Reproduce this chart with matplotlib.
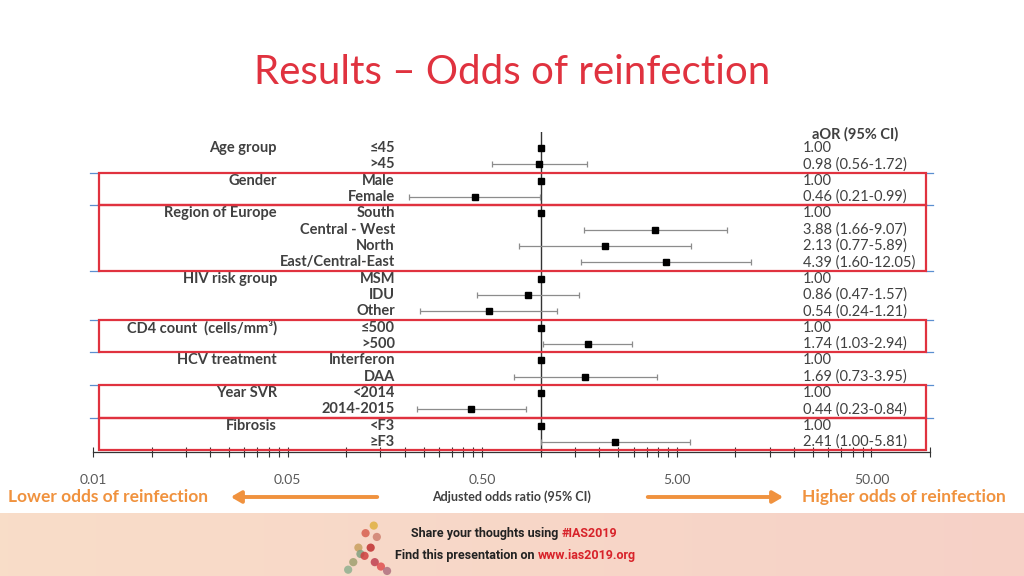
import numpy as np
import matplotlib
matplotlib.use('Agg')
import matplotlib.pyplot as plt
from matplotlib.patches import Rectangle, FancyArrowPatch
from matplotlib.transforms import blended_transform_factory
from matplotlib.ticker import FixedLocator, FixedFormatter, NullFormatter

plt.rcParams['font.family'] = ['Lato', 'DejaVu Sans']

# dades
categories = ['≤45', '>45', 'Male', 'Female', 'South', 'Central - West', 'North',
              'East/Central-East', 'MSM', 'IDU', 'Other', '≤500', '>500',
              'Interferon', 'DAA', '<2014', '2014-2015', '<F3', '≥F3']
groups = ['Age group', 'Gender', 'Region of Europe', 'HIV risk group',
          'CD4 count  (cells/mm³)', 'HCV treatment', 'Year SVR', 'Fibrosis']
group_rows = [0, 2, 4, 8, 11, 13, 15, 17]
aor = [1.00, 0.98, 1.00, 0.46, 1.00, 3.88, 2.13, 4.39, 1.00, 0.86, 0.54,
       1.00, 1.74, 1.00, 1.69, 1.00, 0.44, 1.00, 2.41]
ci_lo = [np.nan, 0.56, np.nan, 0.21, np.nan, 1.66, 0.77, 1.60, np.nan, 0.47, 0.24,
         np.nan, 1.03, np.nan, 0.73, np.nan, 0.23, np.nan, 1.00]
ci_hi = [np.nan, 1.72, np.nan, 0.99, np.nan, 9.07, 5.89, 12.05, np.nan, 1.57, 1.21,
         np.nan, 2.94, np.nan, 3.95, np.nan, 0.84, np.nan, 5.81]
# caixes vermelles (fila inicial, fila final)
boxes = [(2, 3), (4, 7), (11, 12), (15, 16), (17, 18)]
tick_vals = [0.005, 0.05, 0.5, 5, 50]
tick_labels = ['0.01', '0.05', '0.50', '5.00', '50.00']

red = '#E0323F'
orange = '#F0923E'
grey_txt = '#404040'

fig = plt.figure(figsize=(10.24, 5.76), dpi=100)

# banda inferior
band = fig.add_axes([0, 0, 1, 63 / 576])
grad = np.linspace(0, 1, 256).reshape(1, -1)
c1 = np.array([0.976, 0.867, 0.788])
c2 = np.array([0.965, 0.820, 0.780])
img = c1[None, None, :] * (1 - grad[..., None]) + c2[None, None, :] * grad[..., None]
band.imshow(img, aspect='auto', extent=[0, 1, 0, 1])
band.set_xlim(0, 1)
band.set_ylim(0, 1)
band.axis('off')
bf = dict(fontsize=9, fontweight='bold', family=['Roboto', 'DejaVu Sans'])
t1 = band.text(411 / 1024, 0.67, 'Share your thoughts using ', ha='left', va='center',
               color='#222222', **bf)
band.annotate('#IAS2019', xy=(1, 0.5), xycoords=t1, ha='left', va='center',
              color='#D8232A', **bf)
t2 = band.text(395 / 1024, 0.33, 'Find this presentation on ', ha='left', va='center',
               color='#222222', **bf)
band.annotate('www.ias2019.org', xy=(1, 0.5), xycoords=t2, ha='left', va='center',
              color='#D8232A', **bf)
# logo simplificat (llaç)
rib_x = [0.350, 0.357, 0.365, 0.368, 0.362, 0.352, 0.345, 0.340, 0.356, 0.366, 0.372, 0.378]
rib_y = [0.45, 0.68, 0.80, 0.62, 0.45, 0.35, 0.22, 0.10, 0.32, 0.22, 0.15, 0.08]
rib_c = ['#C8A060', '#D86050', '#E0B040', '#D08070', '#C03030', '#80A080', '#A0A070',
         '#90B090', '#D04040', '#C04050', '#E05050', '#B07080']
band.scatter(rib_x, rib_y, s=35, c=rib_c, alpha=0.85, linewidths=0)

# títol
fig.text(0.5, 1 - 73 / 576, 'Results – Odds of reinfection', ha='center', va='center',
         fontsize=29, color=red)

ax = fig.add_axes([93 / 1024, (576 - 452) / 576, 837 / 1024, 320 / 576])
rows = np.arange(len(categories))
aor_a = np.array(aor)
lo_a = np.array(ci_lo)
hi_a = np.array(ci_hi)
has_ci = ~np.isnan(lo_a)

ax.axvline(1, color='#333333', lw=1, zorder=1)
ax.errorbar(aor_a[has_ci], rows[has_ci],
            xerr=[aor_a[has_ci] - lo_a[has_ci], hi_a[has_ci] - aor_a[has_ci]],
            fmt='none', ecolor='#8C8C8C', elinewidth=0.9, capsize=2.5, capthick=0.9, zorder=2)
ax.plot(aor_a, rows, 's', color='black', markersize=5, zorder=3)

ax.set_xscale('log')
ax.set_xlim(0.005, 100)
ax.set_ylim(18.61, -0.98)
ax.xaxis.set_major_locator(FixedLocator(tick_vals))
ax.xaxis.set_major_formatter(FixedFormatter(tick_labels))
minor = [k * t for t in tick_vals for k in range(2, 10) if k * t <= 100]
ax.xaxis.set_minor_locator(FixedLocator(minor))
ax.xaxis.set_minor_formatter(NullFormatter())
ax.tick_params(axis='x', which='both', direction='inout', length=7, width=0.8,
               color='#333333', labelsize=10, labelcolor='#595959', pad=12)
ax.set_yticks([])
for s in ['top', 'left', 'right']:
    ax.spines[s].set_visible(False)
ax.spines['bottom'].set_color('#333333')
ax.spines['bottom'].set_linewidth(0.9)

tr = blended_transform_factory(ax.transAxes, ax.transData)
for g, r in zip(groups, group_rows):
    ax.text(0.2198, r, g, transform=tr, ha='right', va='center', fontsize=10.5,
            fontweight='bold', color=grey_txt, clip_on=False)
for i, c in enumerate(categories):
    ax.text(0.3608, i, c, transform=tr, ha='right', va='center', fontsize=10.5,
            fontweight='bold', color=grey_txt, clip_on=False)
    if has_ci[i]:
        s = f'{aor[i]:.2f} ({ci_lo[i]:.2f}-{ci_hi[i]:.2f})'
    else:
        s = f'{aor[i]:.2f}'
    ax.text(0.848, i, s, transform=tr, ha='left', va='center', fontsize=10.5,
            color=grey_txt, clip_on=False)
ax.text(0.911, -0.85, 'aOR (95% CI)', transform=tr, ha='center', va='center',
        fontsize=10.5, fontweight='bold', color=grey_txt, clip_on=False)

for a, b in boxes:
    ax.add_patch(Rectangle((0.0072, a - 0.5), 0.9877, b - a + 1, transform=tr,
                           fill=False, edgecolor=red, lw=1.6, clip_on=False, zorder=4))
for yb in [1.5, 3.5, 7.5, 10.5, 12.5, 14.5, 16.5]:
    ax.plot([-0.003, 0.0072], [yb, yb], transform=tr, color='#5B8FD0', lw=0.9, clip_on=False)
    ax.plot([0.995, 1.003], [yb, yb], transform=tr, color='#5B8FD0', lw=0.9, clip_on=False)

# textos i fletxes inferiors
yb = 1 - 497 / 576
fig.text(8 / 1024, yb, 'Lower odds of reinfection', ha='left', va='center',
         fontsize=12.5, fontweight='bold', color=orange)
fig.text(1006 / 1024, yb, 'Higher odds of reinfection', ha='right', va='center',
         fontsize=12.5, fontweight='bold', color=orange)
fig.text(511 / 1024, yb, 'Adjusted odds ratio (95% CI)', ha='center', va='center',
         fontsize=9, fontweight='bold', color=grey_txt)
fig.add_artist(FancyArrowPatch(
    (380 / 1024, yb), (228 / 1024, yb), transform=fig.transFigure,
    arrowstyle='-|>,head_length=6,head_width=3.5', color=orange, lw=2.8))
fig.add_artist(FancyArrowPatch(
    (645 / 1024, yb), (786 / 1024, yb), transform=fig.transFigure,
    arrowstyle='-|>,head_length=6,head_width=3.5', color=orange, lw=2.8))

plt.savefig('out.png', dpi=100)
plt.close()
